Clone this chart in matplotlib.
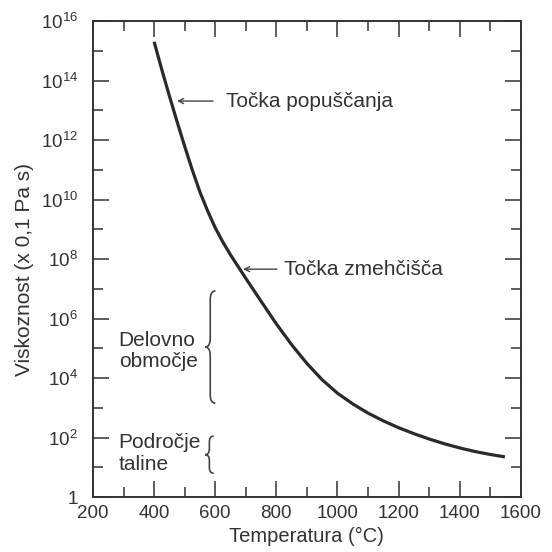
import numpy as np
import matplotlib
matplotlib.use("Agg")
import matplotlib.pyplot as plt
from matplotlib.path import Path
from matplotlib.patches import PathPatch
from matplotlib.ticker import FixedLocator, FixedFormatter, NullFormatter

plt.rcParams['font.family'] = ['Liberation Sans', 'DejaVu Sans']
plt.rcParams['mathtext.fontset'] = 'custom'
plt.rcParams['mathtext.rm'] = 'Liberation Sans'
plt.rcParams['mathtext.it'] = 'Liberation Sans:italic'
plt.rcParams['mathtext.bf'] = 'Liberation Sans:bold'

# ---- data ----
temperature_c = [400, 425, 450, 475, 500, 525, 550, 575, 600, 625, 650, 700,
                 750, 800, 850, 900, 950, 1000, 1050, 1100, 1150, 1200, 1250,
                 1300, 1350, 1400, 1450, 1500, 1548]
log10_viscosity = [15.30, 14.37, 13.48, 12.62, 11.79, 10.99, 10.25, 9.62,
                   9.05, 8.57, 8.14, 7.35, 6.58, 5.82, 5.12, 4.49, 3.94, 3.49,
                   3.13, 2.82, 2.56, 2.33, 2.13, 1.95, 1.79, 1.65, 1.53, 1.43,
                   1.35]

x_major_ticks = [200, 400, 600, 800, 1000, 1200, 1400, 1600]
x_minor_ticks = [300, 500, 700, 900, 1100, 1300, 1500]
x_tick_labels = ['200', '400', '600', '800', '1000', '1200', '1400', '1600']
y_major_exponents = [0, 2, 4, 6, 8, 10, 12, 14, 16]
y_minor_exponents = [1, 3, 5, 7, 9, 11, 13, 15]
y_tick_labels = ['1', r'$\mathregular{10^2}$', r'$\mathregular{10^4}$',
                 r'$\mathregular{10^6}$', r'$\mathregular{10^8}$',
                 r'$\mathregular{10^{10}}$', r'$\mathregular{10^{12}}$',
                 r'$\mathregular{10^{14}}$', r'$\mathregular{10^{16}}$']

x_label = 'Temperatura (°C)'
y_label = 'Viskoznost (x 0,1 Pa s)'
strain_label = 'Točka popuščanja'
soft_label = 'Točka zmehčišča'
work_label = ['Delovno', 'območje']
melt_label = ['Področje', 'taline']

ink = '#333333'
fs = 15

fig = plt.figure(figsize=(5.52, 5.52), dpi=100)
ax = fig.add_axes([0.1685, 0.0996, 0.775, 0.8623])

viscosity = [10.0 ** v for v in log10_viscosity]
ax.plot(temperature_c, viscosity, color='#2a2a2a', lw=2.3,
        solid_capstyle='butt', solid_joinstyle='round')

ax.set_yscale('log')
ax.set_xlim(200, 1600)
ax.set_ylim(1, 1e16)

ax.xaxis.set_major_locator(FixedLocator(x_major_ticks))
ax.xaxis.set_minor_locator(FixedLocator(x_minor_ticks))
ax.xaxis.set_major_formatter(FixedFormatter(x_tick_labels))
ax.xaxis.set_minor_formatter(NullFormatter())
ax.yaxis.set_major_locator(FixedLocator([10.0 ** e for e in y_major_exponents]))
ax.yaxis.set_minor_locator(FixedLocator([10.0 ** e for e in y_minor_exponents]))
ax.yaxis.set_major_formatter(FixedFormatter(y_tick_labels))
ax.yaxis.set_minor_formatter(NullFormatter())

ax.tick_params(which='both', direction='in', top=True, right=True,
               colors=ink, width=1.1)
ax.tick_params(which='major', length=11.5, pad=6)
ax.tick_params(axis='x', which='major', labelsize=13.5)
ax.tick_params(which='minor', length=7.5)
ax.tick_params(axis='y', which='major', pad=11, labelsize=13.5)
for s in ax.spines.values():
    s.set_linewidth(1.4)
    s.set_color(ink)

ax.set_xlabel(x_label, fontsize=14.5, color=ink, labelpad=3)
ax.set_ylabel(y_label, fontsize=fs, color=ink)
ax.yaxis.set_label_coords(-0.137, 0.477)

# annotations
arrow_kw = dict(arrowstyle='->', color='#444444', lw=1.0,
                shrinkA=0, shrinkB=0, mutation_scale=9)
ax.annotate('', xy=(475, 10 ** 13.31), xytext=(593, 10 ** 13.31),
            arrowprops=arrow_kw)
ax.text(636, 10 ** 13.11, strain_label, fontsize=fs, color=ink,
        ha='left', va='baseline')
ax.annotate('', xy=(691, 10 ** 7.66), xytext=(802, 10 ** 7.66),
            arrowprops=arrow_kw)
ax.text(826, 10 ** 7.46, soft_label, fontsize=fs, color=ink,
        ha='left', va='baseline')

ax.text(284, 10 ** 5.08, work_label[0], fontsize=fs, color=ink,
        ha='left', va='baseline')
ax.text(284, 10 ** 4.37, work_label[1], fontsize=fs, color=ink,
        ha='left', va='baseline')
ax.text(284, 10 ** 1.65, melt_label[0], fontsize=fs, color=ink,
        ha='left', va='baseline')
ax.text(284, 10 ** 0.91, melt_label[1], fontsize=fs, color=ink,
        ha='left', va='baseline')


def brace(xs, ybot, ytop, w, d):
    ymid = 0.5 * (ybot + ytop)
    verts = [(xs + w, ytop), (xs, ytop), (xs, ytop - d),
             (xs, ymid + d),
             (xs, ymid), (xs - w, ymid),
             (xs, ymid), (xs, ymid - d),
             (xs, ybot + d),
             (xs, ybot), (xs + w, ybot)]
    codes = [Path.MOVETO, Path.CURVE3, Path.CURVE3,
             Path.LINETO,
             Path.CURVE3, Path.CURVE3,
             Path.CURVE3, Path.CURVE3,
             Path.LINETO,
             Path.CURVE3, Path.CURVE3]
    ax.add_patch(PathPatch(Path(verts, codes), transform=ax.transAxes,
                           fill=False, edgecolor='#444444', lw=1.2,
                           clip_on=False))


brace(0.274, 0.197, 0.433, 0.012, 0.018)
brace(0.272, 0.050, 0.128, 0.010, 0.012)

fig.savefig('out.png', dpi=100, facecolor='white')
